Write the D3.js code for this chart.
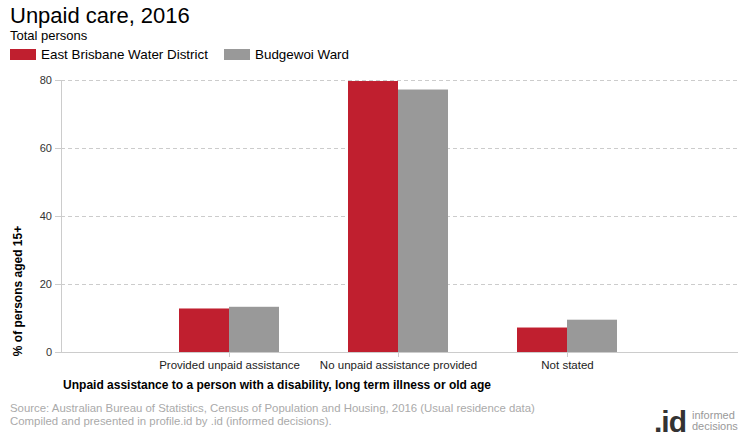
<!DOCTYPE html>
<html><head><meta charset="utf-8">
<script src="https://cdn.jsdelivr.net/npm/d3@7"></script>
<style>body{margin:0;background:#fff;} svg{display:block;font-family:"Liberation Sans",Arial,sans-serif;}</style>
</head><body>
<svg id="c" width="740" height="440"></svg>
<script>
const categories = ["Provided unpaid assistance", "No unpaid assistance provided", "Not stated"];
const seriesNames = ["East Brisbane Water District", "Budgewoi Ward"];
const eastBrisbane = [12.8, 79.7, 7.2];
const budgewoi = [13.3, 77.2, 9.5];
const yTicks = [0, 20, 40, 60, 80];
const colors = ["#C01F2F", "#999999"];

(function () {
const svg = d3.select("#c");
const pLeft = 61, pRight = 738, pTop = 80, pBottom = 352;
const x = d3.scalePoint().domain(categories).range([60, 736]).padding(1);
const y = d3.scaleLinear().domain([0, 80]).range([pBottom, pTop]);
const barW = 50;

svg.append("text").attr("x", 10).attr("y", 23).attr("font-size", 22).attr("fill", "#000").text("Unpaid care, 2016");
svg.append("text").attr("x", 10).attr("y", 40).attr("font-size", 13).attr("fill", "#000").text("Total persons");

const legX = [10, 224];
seriesNames.forEach((n, i) => {
  svg.append("rect").attr("x", legX[i]).attr("y", 49).attr("width", 26).attr("height", 11).attr("fill", colors[i]);
  svg.append("text").attr("x", legX[i] + 31).attr("y", 59).attr("font-size", 13.4).attr("fill", "#000").text(n);
});

const yAxis = d3.axisLeft(y).tickValues(yTicks).tickSize(6).tickPadding(3);
const gy = svg.append("g").attr("transform", `translate(${pLeft},0)`).call(yAxis);
gy.select(".domain").attr("stroke", "#ccc");
gy.selectAll(".tick line").attr("stroke", "#ccc");
gy.selectAll(".tick text").attr("font-size", 11).attr("fill", "#333").attr("font-family", "Liberation Sans, Arial, sans-serif");
svg.append("g").selectAll("line").data(yTicks.filter(d => d > 0)).join("line")
  .attr("x1", pLeft).attr("x2", pRight).attr("y1", d => y(d) + 0.5).attr("y2", d => y(d) + 0.5)
  .attr("stroke", "#ccc").attr("stroke-dasharray", "4,3");

const data = [eastBrisbane, budgewoi];
data.forEach((vals, si) => {
  svg.append("g").selectAll("rect").data(categories).join("rect")
    .attr("x", d => x(d) - barW + si * barW)
    .attr("y", (d, i) => y(vals[i]))
    .attr("width", barW)
    .attr("height", (d, i) => y(0) - y(vals[i]))
    .attr("fill", colors[si]);
});

const xAxis = d3.axisBottom(x).tickSize(5).tickPadding(4);
const gx = svg.append("g").attr("transform", `translate(0,${pBottom})`).call(xAxis);
gx.select(".domain").attr("stroke", "#ccc").attr("d", `M${pLeft},0.5H${pRight}`);
gx.selectAll(".tick line").attr("stroke", "#ccc");
gx.selectAll(".tick text").attr("font-size", 11.5).attr("fill", "#222").attr("font-family", "Liberation Sans, Arial, sans-serif");

svg.append("text").attr("transform", "translate(22,291) rotate(-90)").attr("text-anchor", "middle")
  .attr("font-size", 12).attr("font-weight", "bold").attr("fill", "#000").text("% of persons aged 15+");
svg.append("text").attr("x", 277).attr("y", 389).attr("text-anchor", "middle")
  .attr("font-size", 12).attr("font-weight", "bold").attr("fill", "#000").text("Unpaid assistance to a person with a disability, long term illness or old age");

svg.append("text").attr("x", 10).attr("y", 412).attr("font-size", 11.4).attr("fill", "#aaa").text("Source: Australian Bureau of Statistics, Census of Population and Housing, 2016 (Usual residence data)");
svg.append("text").attr("x", 10).attr("y", 425).attr("font-size", 11.4).attr("fill", "#aaa").text("Compiled and presented in profile.id by .id (informed decisions).");

svg.append("text").attr("x", 654).attr("y", 432).attr("font-size", 30).attr("font-weight", "bold").attr("fill", "#333").attr("letter-spacing", "-1").text(".id");
svg.append("text").attr("x", 692).attr("y", 419).attr("font-size", 11).attr("fill", "#999").text("informed");
svg.append("text").attr("x", 692).attr("y", 430).attr("font-size", 11).attr("fill", "#999").text("decisions");
})();
</script>
</body></html>
